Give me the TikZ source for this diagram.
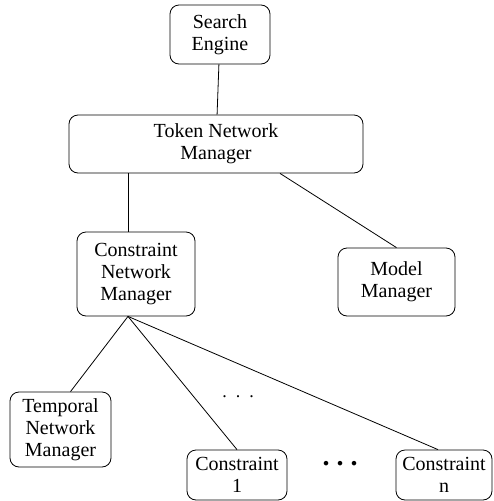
\documentclass[tikz,border=0pt]{standalone}
\usepackage{fontspec}
\setmainfont{Liberation Serif}
\newfontfamily\timesfont{Liberation Serif}
\usepackage{tikz}

\tikzset{
  module/.style={draw, rounded corners=9pt, align=center, inner sep=0pt,
    font=\timesfont\fontsize{20}{22}\selectfont},
}

\begin{document}
\begin{tikzpicture}[x=1pt,y=-1pt,line width=0.8pt]
    \useasboundingbox (0,0) rectangle (493,501);
    \node[module, minimum width=100, minimum height=59] (search) at (220,34.5) {Search\\Engine};
    \node[module, minimum width=294, minimum height=58] (token) at (216,144) {Token Network\\Manager};
    \node[module, minimum width=118, minimum height=84] (cnm) at (136,274) {Constraint\\Network\\Manager};
    \node[module, minimum width=117, minimum height=68] (model) at (396.5,282) {Model\\Manager};
    \node[module, minimum width=101, minimum height=75] (temporal) at (60.5,429.5) {Temporal\\Network\\Manager};
    \node[module, minimum width=100, minimum height=50] (cone) at (237,475) {Constraint\\1};
    \node[module, minimum width=96, minimum height=50] (cn) at (444,475) {Constraint\\n};
    \node[font=\timesfont\fontsize{18}{18}\selectfont] (dotsa) at (238,397) {.\ \ .\ \ .};
    \node[font=\timesfont\fontsize{28}{28}\bfseries] (dotsb) at (340,464) {.\ .\ .};
    \draw (search) -- (token);
    \draw ([xshift=-88]token.south) -- ([xshift=-8]cnm.north);
    \draw ([xshift=64]token.south) -- (model.north);
    \draw ([xshift=-8]cnm.south) -- ([xshift=10]temporal.north);
    \draw ([xshift=-8]cnm.south) -- (cone.north);
    \draw ([xshift=-8]cnm.south) -- ([xshift=-6]cn.north);
\end{tikzpicture}
\end{document}
